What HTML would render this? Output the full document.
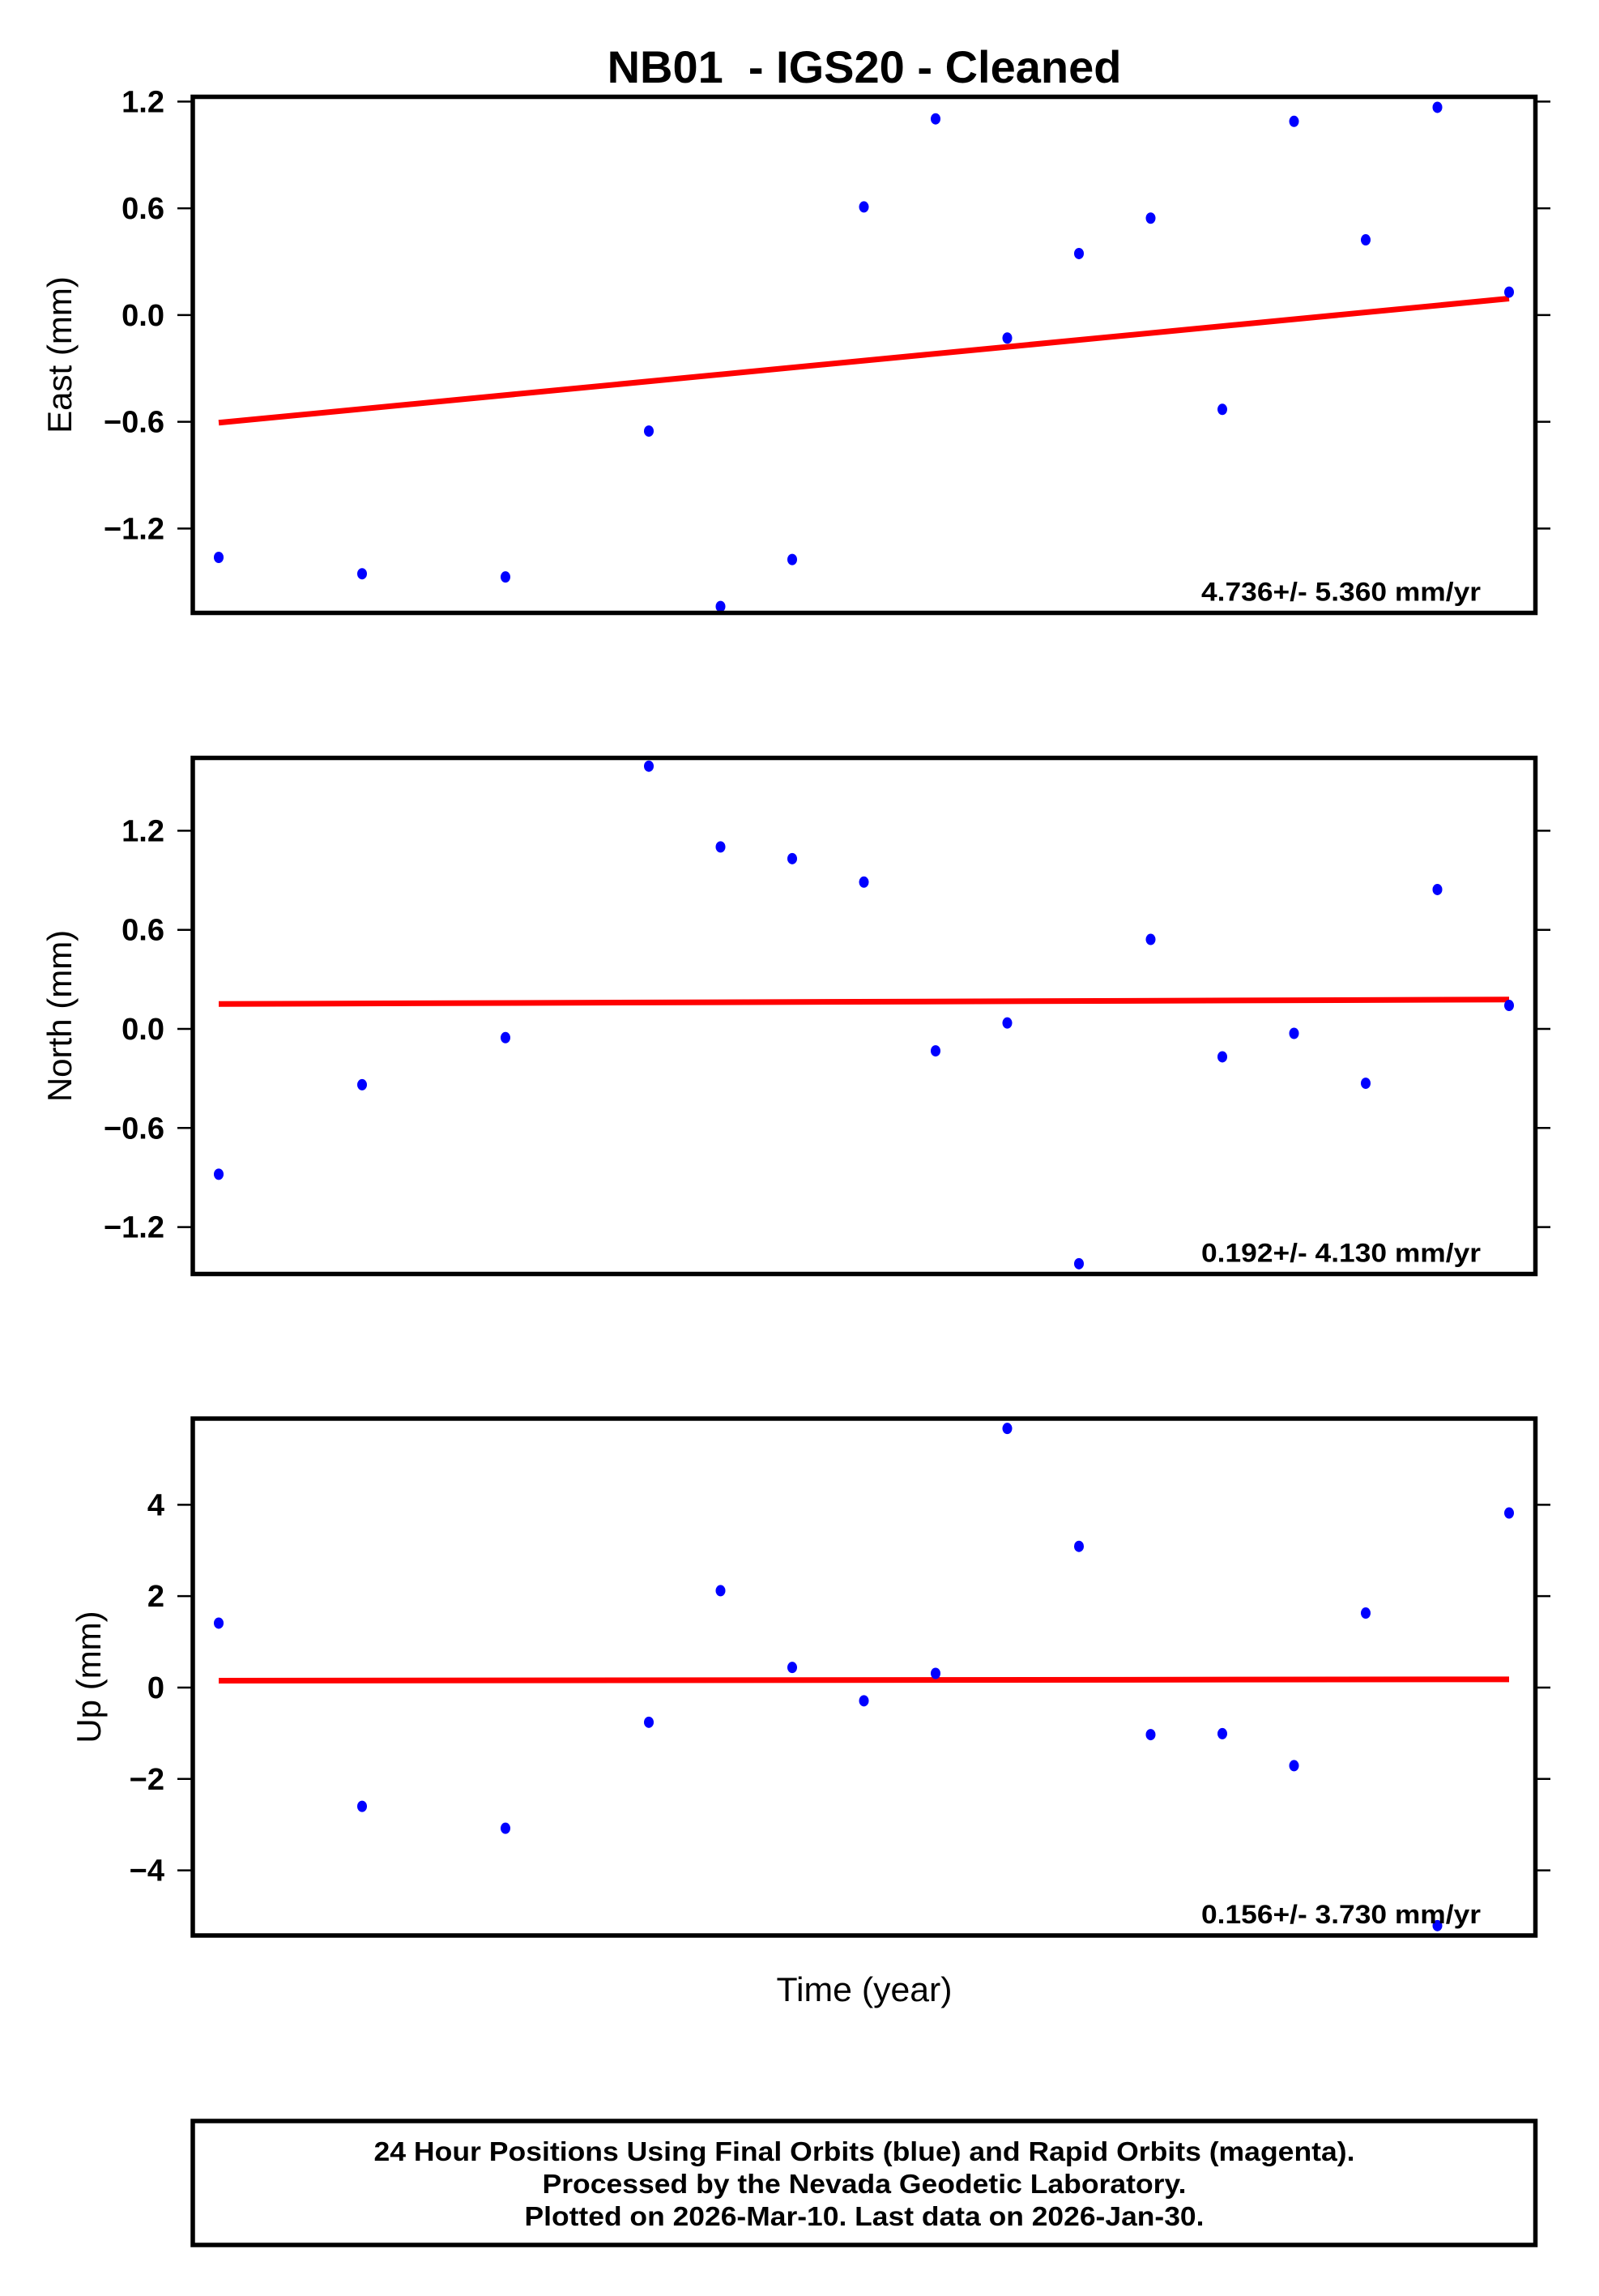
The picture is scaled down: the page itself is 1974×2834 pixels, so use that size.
<!DOCTYPE html>
<html><head><meta charset="utf-8"><style>
html,body{margin:0;padding:0;background:#fff;}
svg{display:block;font-family:"Liberation Sans",sans-serif;}
</style></head><body>
<svg id="chart" width="1974" height="2834" viewBox="0 0 1974 2834">
<text x="1067" y="102" text-anchor="middle" font-size="56" font-weight="bold">NB01&#160;&#160;- IGS20 - Cleaned</text>
<text x="1067" y="2470" text-anchor="middle" font-size="42" textLength="217" lengthAdjust="spacingAndGlyphs">Time (year)</text>
<rect x="238" y="2618" width="1657.5" height="153" fill="none" stroke="#000" stroke-width="5.5"/>
<text x="1067" y="2667" text-anchor="middle" font-size="33" font-weight="bold" textLength="1211" lengthAdjust="spacingAndGlyphs">24 Hour Positions Using Final Orbits (blue) and Rapid Orbits (magenta).</text>
<text x="1067" y="2707" text-anchor="middle" font-size="33" font-weight="bold" textLength="795" lengthAdjust="spacingAndGlyphs">Processed by the Nevada Geodetic Laboratory.</text>
<text x="1067" y="2747" text-anchor="middle" font-size="33" font-weight="bold" textLength="839" lengthAdjust="spacingAndGlyphs">Plotted on 2026-Mar-10. Last data on 2026-Jan-30.</text>
</svg>
<script>
const times = [0,2,4,6,7,8,9,10,11,12,13,14,15,16,17,18];
const eastValues = [-1.362,-1.454,-1.472,-0.652,-1.638,-1.374,0.608,1.103,-0.129,0.346,0.545,-0.530,1.089,0.423,1.168,0.129];
const northValues = [-0.88,-0.338,-0.053,1.591,1.102,1.031,0.889,-0.133,0.036,-1.422,0.542,-0.169,-0.027,-0.329,0.844,0.142];
const upValues = [1.41,-2.60,-3.08,-0.76,2.12,0.44,-0.29,0.31,5.67,3.09,-1.03,-1.01,-1.71,1.63,-5.21,3.82];
const eastTrend = [-0.605,0.093];
const northTrend = [0.151,0.178];
const upTrend = [0.15,0.18];
const eastTicks = [1.2,0.6,0.0,-0.6,-1.2];
const eastTickLabels = ["1.2","0.6","0.0","\u22120.6","\u22121.2"];
const northTicks = [1.2,0.6,0.0,-0.6,-1.2];
const northTickLabels = ["1.2","0.6","0.0","\u22120.6","\u22121.2"];
const upTicks = [4,2,0,-2,-4];
const upTickLabels = ["4","2","0","\u22122","\u22124"];
const rateLabels = ["4.736+/- 5.360 mm/yr","0.192+/- 4.130 mm/yr","0.156+/- 3.730 mm/yr"];

const NS="http://www.w3.org/2000/svg";
const svg=document.getElementById('chart');
const X0=238,X1=1895.5;
function xs(t){return 270+(t-0)*(1863-270)/18;}
function mk(tag,attrs,parent){const e=document.createElementNS(NS,tag);for(const k in attrs)e.setAttribute(k,attrs[k]);(parent||svg).appendChild(e);return e;}

const panels=[
 {key:'east',top:119.5,bottom:756.5,vmax:1.227,vmin:-1.674,vals:eastValues,trend:eastTrend,ticks:eastTicks,labels:eastTickLabels,title:'East (mm)',tx:77,rate:rateLabels[0]},
 {key:'north',top:935.5,bottom:1572.5,vmax:1.641,vmin:-1.484,vals:northValues,trend:northTrend,ticks:northTicks,labels:northTickLabels,title:'North (mm)',tx:77,rate:rateLabels[1]},
 {key:'up',top:1751,bottom:2389,vmax:5.886,vmin:-5.426,vals:upValues,trend:upTrend,ticks:upTicks,labels:upTickLabels,title:'Up (mm)',tx:113,rate:rateLabels[2]}
];
panels.forEach(p=>{
  const ys=v=>p.top+(p.vmax-v)*(p.bottom-p.top)/(p.vmax-p.vmin);
  const g=mk('g',{});
  
  
  p.ticks.forEach((tv,i)=>{
    const y=ys(tv);
    const l=mk('line',{x1:219,x2:238,y1:y,y2:y,stroke:'#000','stroke-width':2.5},g);
    
    
    const r=mk('line',{x1:1895,x2:1914,y1:y,y2:y,stroke:'#000','stroke-width':2.5},g);
    
    
    const t=mk('text',{x:203,y:y+13,'text-anchor':'end','font-size':38,'font-weight':'bold'},g);
    t.textContent=p.labels[i];
    
    
  });
  const cy=(p.top+p.bottom)/2;
  const at=mk('text',{x:p.tx,y:cy,'text-anchor':'middle','font-size':42,transform:`rotate(-90 ${p.tx} ${cy})`,'dominant-baseline':'middle'},g);
  at.textContent=p.title;
  
  
  const tl=mk('line',{x1:xs(times[0]),x2:xs(times[times.length-1]),y1:ys(p.trend[0]),y2:ys(p.trend[1]),stroke:'#ff0000','stroke-width':7},g);
  
  
  p.vals.forEach((v,i)=>{
    const c=mk('ellipse',{cx:xs(times[i]),cy:ys(v),rx:6,ry:7,fill:'#0000ff'},g);
    
    
  });
  const fr=mk('rect',{x:X0,y:p.top,width:X1-X0,height:p.bottom-p.top,fill:'none',stroke:'#000','stroke-width':5.5},g);
  
  
  const rt=mk('text',{x:1828,y:p.bottom-15,'text-anchor':'end','font-size':32,'font-weight':'bold',textLength:345,lengthAdjust:'spacingAndGlyphs'},g);
  rt.textContent=p.rate;
  
  
});
</script>
</body></html>
